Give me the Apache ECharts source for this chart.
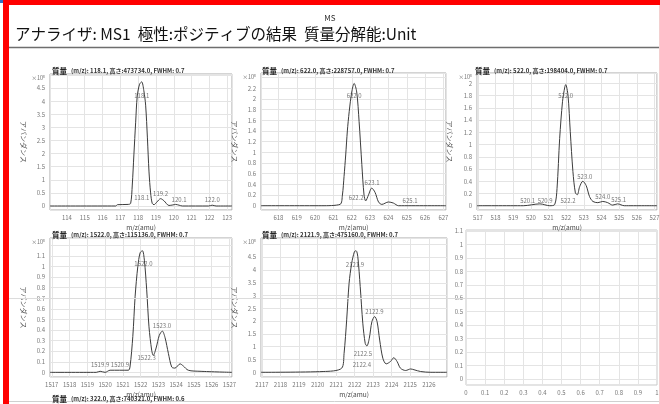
<!DOCTYPE html>
<html>
<head>
<meta charset="utf-8">
<script src="https://cdn.jsdelivr.net/npm/echarts@6/dist/echarts.min.js"></script>
<style>
  html, body { margin: 0; padding: 0; background: #fff; }
  #chart { width: 660px; height: 404px; }
</style>
</head>
<body>
<div id="chart"></div>
<script>
// header texts
const headText = 'アナライザ: MS1  極性:ポジティブの結果  質量分解能:Unit'
const panelTitles = [
  '(m/z): 118.1, 高さ:473734.0, FWHM: 0.7',
  '(m/z): 622.0, 高さ:228757.0, FWHM: 0.7',
  '(m/z): 522.0, 高さ:198404.0, FWHM: 0.7',
  '(m/z): 1522.0, 高さ:115136.0, FWHM: 0.7',
  '(m/z): 2121.9, 高さ:475160.0, FWHM: 0.7',
  '(m/z): 322.0, 高さ:740321.0, FWHM: 0.6'
]

// spectra (abundance in x10^5)
const mz1 = [113.05, 116.74, 116.84, 117.44, 117.58, 117.67, 117.76, 117.86, 117.95, 118.08, 118.2, 118.32, 118.42, 118.52, 118.61, 118.7, 118.79, 118.89, 119.05, 119.26, 119.45, 119.73, 119.95, 120.1, 120.3, 120.48, 121.95, 122.16, 122.38, 123.27]
const ab1 = [0, 0, 0.05, 0.06, 0.1, 0.8, 1.95, 3.2, 4.2, 4.65, 4.74, 4.4, 3.85, 2.6, 1.3, 0.5, 0.1, 0.05, 0.15, 0.28, 0.2, 0.02, 0.04, 0.06, 0.03, 0, 0, 0.03, 0, 0]
const mz2 = [617.05, 620.37, 621.36, 621.49, 621.58, 621.67, 621.76, 621.86, 622.0, 622.13, 622.27, 622.4, 622.55, 622.67, 622.76, 622.91, 623.09, 623.27, 623.46, 623.64, 624.0, 624.27, 624.55, 627.14]
const ab2 = [0, 0, 0.025, 0.2, 0.55, 0.95, 1.4, 1.76, 2.13, 2.29, 2.13, 1.58, 0.77, 0.2, 0.09, 0.2, 0.33, 0.25, 0.07, 0.025, 0.07, 0.05, 0, 0]
const mz3 = [516.95, 519.57, 520.51, 521.07, 521.35, 521.48, 521.63, 521.79, 521.92, 521.97, 522.1, 522.23, 522.38, 522.52, 522.63, 522.76, 522.94, 523.13, 523.32, 523.51, 523.79, 524.07, 524.35, 524.63, 524.91, 525.29, 527.14]
const ab3 = [0, 0, 0.03, 0, 0.02, 0.28, 1.1, 1.7, 1.94, 1.98, 1.81, 1.21, 0.56, 0.21, 0.18, 0.31, 0.4, 0.33, 0.15, 0.07, 0.05, 0.07, 0.05, 0.01, 0.03, 0, 0]
const mz4 = [1516.9, 1519.5, 1519.72, 1520.0, 1520.28, 1521.31, 1521.4, 1521.56, 1521.69, 1521.84, 1521.97, 1522.1, 1522.21, 1522.34, 1522.47, 1522.62, 1522.71, 1522.87, 1523.05, 1523.22, 1523.37, 1523.56, 1523.75, 1523.93, 1524.22, 1524.4, 1524.68, 1525.34, 1527.14]
const ab4 = [0, 0, 0.01, 0, 0.02, 0.02, 0.05, 0.34, 0.72, 1.0, 1.13, 1.15, 1.06, 0.78, 0.43, 0.21, 0.16, 0.23, 0.35, 0.39, 0.33, 0.18, 0.05, 0.04, 0.08, 0.06, 0.02, 0.01, 0]
const mz5 = [2116.95, 2120.3, 2121.3, 2121.43, 2121.57, 2121.7, 2121.84, 2121.99, 2122.08, 2122.17, 2122.3, 2122.44, 2122.57, 2122.66, 2122.79, 2122.93, 2123.08, 2123.21, 2123.35, 2123.52, 2123.7, 2123.93, 2124.11, 2124.29, 2124.47, 2124.75, 2125.02, 2125.2, 2125.56, 2126.11, 2126.98]
const ab5 = [0, 0.03, 0.16, 0.74, 2.05, 3.48, 4.26, 4.72, 4.75, 4.52, 3.35, 1.92, 1.13, 1.03, 1.33, 1.98, 2.18, 1.98, 1.26, 0.55, 0.33, 0.42, 0.57, 0.42, 0.16, 0.07, 0.13, 0.1, 0.03, 0, 0]

// peak annotations [m/z, abundance, text]
const peaks1 = [[118.2, 4.21, '118.1'], [118.2, 0.3, '118.1'], [119.26, 0.48, '119.2'], [120.3, 0.23, '120.1'], [122.16, 0.23, '122.0']]
const peaks2 = [[622.13, 2.06, '622.0'], [622.24, 0.15, '622.2'], [623.11, 0.43, '623.1'], [625.18, 0.09, '625.1']]
const peaks3 = [[521.97, 1.8, '522.0'], [519.82, 0.08, '520.1'], [520.81, 0.08, '520.9'], [522.1, 0.08, '522.2'], [523.05, 0.47, '523.0'], [524.07, 0.15, '524.0'], [524.97, 0.1, '525.1']]
const peaks4 = [[1522.16, 1.03, '1522.0'], [1523.2, 0.44, '1523.0'], [1522.34, 0.14, '1522.3'], [1519.72, 0.07, '1519.9'], [1520.84, 0.07, '1520.9']]
const peaks5 = [[2122.02, 4.2, '2121.9'], [2123.07, 2.37, '2122.9'], [2122.44, 0.72, '2122.5'], [2122.39, 0.29, '2122.4']]

const font = "'Noto Sans CJK JP', 'Noto Sans', sans-serif"
const zip = (a, b) => a.map((v, i) => [v, b[i]])

// box: [left, top, width, height]; x: [min, max, step]; y: [min, max, step, last labelled]
const panels = [
  { box: [50, 74, 182, 136], x: [113.05, 123.27, 1], y: [-0.153, 5.04, 0.5, 4.5], data: zip(mz1, ab1), peaks: peaks1 },
  { box: [261, 73, 185, 137], x: [617.05, 627.14, 1], y: [-0.08, 2.485, 0.2, 2.2], data: zip(mz2, ab2), peaks: peaks2 },
  { box: [477, 73, 180, 137], x: [516.95, 527.14, 1], y: [-0.07, 2.17, 0.2, 2], data: zip(mz3, ab3), peaks: peaks3 },
  { box: [50, 238, 182, 139], x: [1516.9, 1527.14, 1], y: [-0.044, 1.27, 0.1, 1.1], data: zip(mz4, ab4), peaks: peaks4 },
  { box: [261, 238, 186, 139], x: [2116.95, 2126.98, 1], y: [-0.184, 5.25, 0.5, 4.5], data: zip(mz5, ab5), peaks: peaks5 },
  { box: [466, 230, 191, 155], x: [0, 1, 0.1], y: [-0.045, 1.107, 0.1, 1.1], empty: true }
]

const grid = []
const xAxis = []
const yAxis = []
const series = []

panels.forEach((p, i) => {
  const [l, t, w, h] = p.box
  grid.push({
    left: l, top: t, width: w, height: h,
    show: true, borderColor: p.empty ? '#c8c8c8' : '#a8a8a8', borderWidth: 1,
    backgroundColor: '#fff', outerBoundsMode: 'none'
  })
  xAxis.push({
    type: 'value', gridIndex: i,
    min: p.x[0], max: p.x[1], minInterval: p.x[2], maxInterval: p.x[2],
    name: p.empty ? '' : 'm/z(amu)', nameLocation: 'middle', nameGap: 14,
    nameTextStyle: { fontSize: 6.5, color: '#444' },
    axisLine: { show: false }, axisTick: { show: false },
    splitLine: { show: true, lineStyle: { color: '#e4e4e4', width: 1 } },
    axisLabel: {
      fontSize: 6, color: '#777', margin: 5, showMinLabel: true, showMaxLabel: true,
      formatter: v => {
        if (p.x[2] < 1) return String(+v.toFixed(1))
        return Math.abs(v - Math.round(v)) < 1e-6 ? String(Math.round(v)) : ''
      }
    }
  })
  yAxis.push({
    type: 'value', gridIndex: i,
    min: p.y[0], max: p.y[1], minInterval: p.y[2], maxInterval: p.y[2],
    name: p.empty ? '' : 'アバンダンス', nameLocation: 'middle', nameRotate: -90,
    nameGap: l === 477 ? 24 : 21,
    nameTextStyle: { fontSize: 7, color: '#555' },
    axisLine: { show: false }, axisTick: { show: false },
    splitLine: { show: true, lineStyle: { color: '#e4e4e4', width: 1 } },
    axisLabel: {
      fontSize: 6, color: '#777', margin: p.empty ? 3 : 5, showMinLabel: true, showMaxLabel: true,
      rich: { e: { fontSize: 5.5, color: '#777', padding: [8, 0, 0, 0] } },
      formatter: v => {
        if (v < -1e-9) return ''
        if (Math.abs(v - p.y[1]) < 1e-9) return p.empty ? '' : '{e|×10⁵}'
        if (v > p.y[3] + 1e-9) return ''
        return String(+v.toFixed(2))
      }
    }
  })
  if (p.empty) return
  series.push({
    type: 'line', xAxisIndex: i, yAxisIndex: i,
    data: p.data, showSymbol: false, smooth: 0.3,
    lineStyle: { color: '#3c3c3c', width: 1 }, z: 3
  })
  series.push({
    type: 'scatter', xAxisIndex: i, yAxisIndex: i,
    data: p.peaks, symbolSize: 0, z: 4,
    label: { show: true, position: 'inside', fontSize: 6, color: '#555', formatter: d => d.value[2] }
  })
})

const titleRich = {
  b: { fontSize: 7.5, fontWeight: 'bold', color: '#222', fontFamily: font },
  n: { fontSize: 6, color: '#333', fontFamily: font }
}
const titlePos = [[52, 62], [262, 62], [475, 62], [52, 226], [262, 226], [52, 390]]

const title = [
  { text: 'MS', left: 'center', top: 9, textStyle: { fontSize: 8, fontWeight: 'normal', color: '#333', fontFamily: font } },
  { text: headText, left: 10, top: 21, textStyle: { fontSize: 15.5, fontWeight: 'normal', color: '#111', fontFamily: font } }
].concat(panelTitles.map((t, i) => ({
  text: '{b|質量} {n|' + t + '}',
  left: titlePos[i][0], top: titlePos[i][1], padding: 0,
  textStyle: { rich: titleRich }
})))

const chart = echarts.init(document.getElementById('chart'))
chart.setOption({
  animation: false,
  backgroundColor: '#fff',
  textStyle: { fontFamily: font },
  title: title,
  grid: grid,
  xAxis: xAxis,
  yAxis: yAxis,
  series: series,
  graphic: [
    { type: 'rect', shape: { x: 0, y: 0, width: 3, height: 3 }, style: { fill: '#2f6fc6' }, silent: true },
    { type: 'rect', shape: { x: 3, y: 0, width: 657, height: 5 }, style: { fill: '#ff0000' }, silent: true },
    { type: 'rect', shape: { x: 3, y: 0, width: 6, height: 404 }, style: { fill: '#ff0000' }, silent: true },
    { type: 'line', shape: { x1: 9, y1: 47.5, x2: 660, y2: 47.5 }, style: { stroke: '#6e6e6e', lineWidth: 1.5 }, silent: true },
    { type: 'line', shape: { x1: 9, y1: 298.5, x2: 660, y2: 298.5 }, style: { stroke: '#dcdcdc', lineWidth: 1 }, silent: true, z: 10 },
    { type: 'line', shape: { x1: 9, y1: 401.5, x2: 660, y2: 401.5 }, style: { stroke: '#d0d0d0', lineWidth: 1 }, silent: true },
    { type: 'line', shape: { x1: 659.5, y1: 5, x2: 659.5, y2: 404 }, style: { stroke: '#f3d0d0', lineWidth: 1 }, silent: true }
  ]
})
</script>
</body>
</html>
